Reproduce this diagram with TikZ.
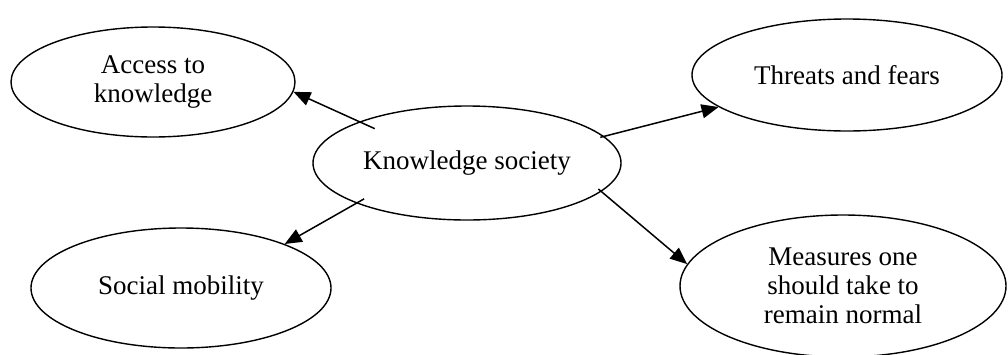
\documentclass[tikz,border=0pt]{standalone}
\usepackage{fontspec}
\setmainfont{Liberation Serif}
\usetikzlibrary{arrows.meta,shapes.geometric}

\begin{document}
\begin{tikzpicture}[x=1pt, y=-1pt,
        topic/.style={ellipse, draw, line width=1.4pt, inner sep=0pt, align=center,
            font=\fontsize{27}{29}\selectfont},
        link/.style={line width=1.5pt, -{Triangle[length=17pt, width=14pt]}}
    ]
        \useasboundingbox (0,0) rectangle (1008,354);
        % Central topic
        \node[topic, minimum width=308pt, minimum height=114pt] (ks) at (467,163) {Knowledge society};
        % Surrounding topics
        \node[topic, minimum width=284pt, minimum height=110pt] (acc) at (153,82) {Access to\\knowledge};
        \node[topic, minimum width=310pt, minimum height=112pt] (thr) at (847,75) {Threats and fears};
        \node[topic, minimum width=300pt, minimum height=120pt] (soc) at (181,288) {Social mobility};
        \node[topic, minimum width=326pt, minimum height=142pt] (mea) at (843,286) {Measures one\\should take to\\remain normal};
        % Links out of the centre
        \draw[link, shorten <=-17pt] (ks.159) -- (acc.-4);
        \draw[link, shorten <=-4pt] (ks.11) -- (thr.-166);
        \draw[link, shorten <=-9pt] (ks.-160) -- (soc.23);
        \draw[link, shorten <=-4pt] (ks.-12) -- (mea.172);
    \end{tikzpicture}
\end{document}
